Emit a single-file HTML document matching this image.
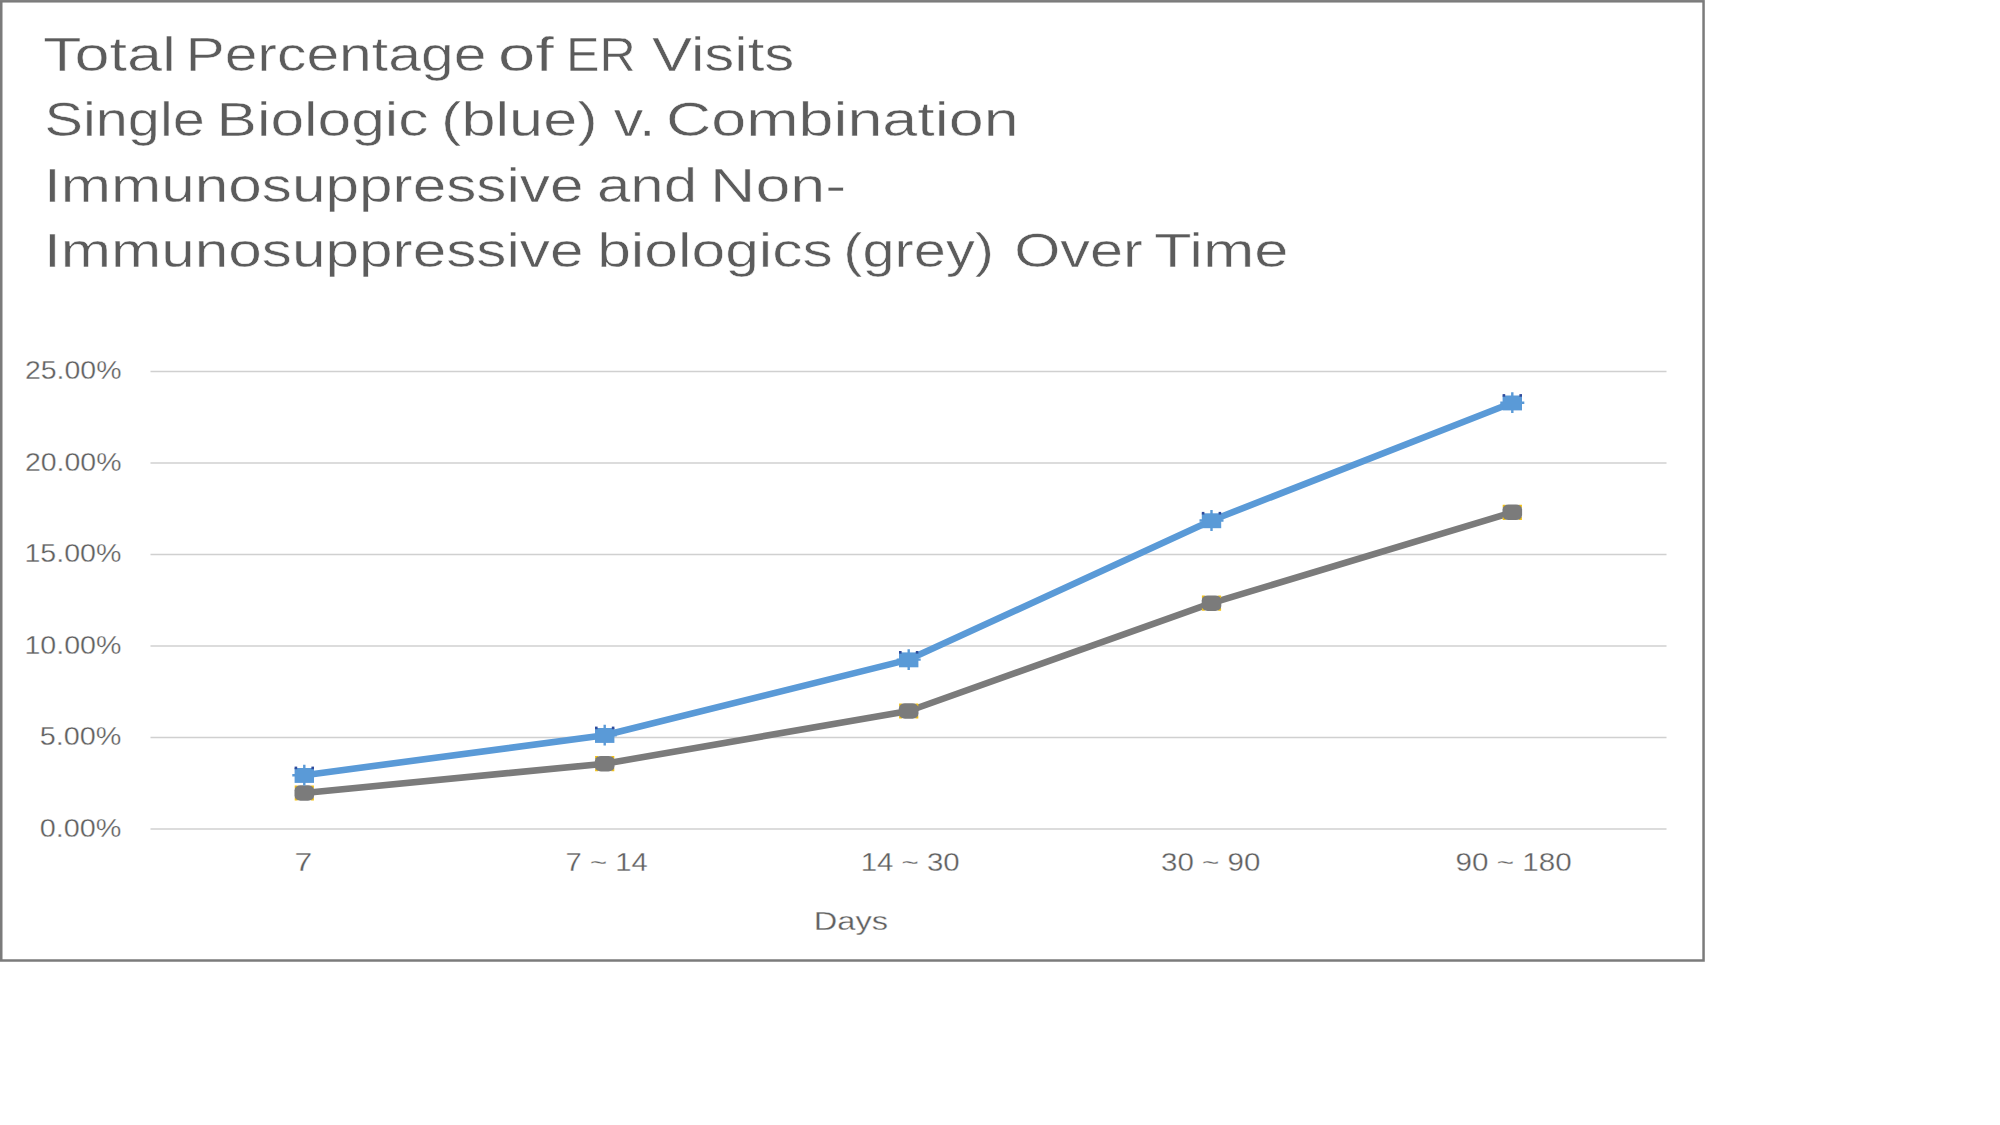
<!DOCTYPE html>
<html lang="en"><head><meta charset="utf-8"><title>Total Percentage of ER Visits</title>
<style>
html,body{margin:0;padding:0;background:#fff;}
body{width:2000px;height:1125px;overflow:hidden;position:relative;}
svg{position:absolute;left:0;top:0;display:block;}
text{font-family:"Liberation Sans",sans-serif;}
.t{font-size:48px;fill:#5c5c5c;stroke:#fff;stroke-width:0.5px;}
.a{font-size:25.1px;fill:#606060;stroke:#fff;stroke-width:0.3px;}
</style></head><body>
<svg width="2000" height="1125" viewBox="0 0 2000 1125">
<rect x="0" y="0" width="2000" height="1125" fill="#fff"/>
<rect x="1.25" y="1.3" width="1702.3" height="959.2" fill="#fff" stroke="#7b7b7b" stroke-width="2.5"/>
<g>
<line x1="150.5" y1="371.5" x2="1666.5" y2="371.5" stroke="#d0d0d0" stroke-width="1.5"/>
<line x1="150.5" y1="463.0" x2="1666.5" y2="463.0" stroke="#d0d0d0" stroke-width="1.5"/>
<line x1="150.5" y1="554.5" x2="1666.5" y2="554.5" stroke="#d0d0d0" stroke-width="1.5"/>
<line x1="150.5" y1="645.9" x2="1666.5" y2="645.9" stroke="#d0d0d0" stroke-width="1.5"/>
<line x1="150.5" y1="737.4" x2="1666.5" y2="737.4" stroke="#d0d0d0" stroke-width="1.5"/>
<line x1="150.5" y1="828.9" x2="1666.5" y2="828.9" stroke="#d0d0d0" stroke-width="1.5"/>
</g>
<text class="t" y="71"><tspan x="43.0" textLength="133.1" lengthAdjust="spacingAndGlyphs">Total</tspan> <tspan x="185.4" textLength="301.0" lengthAdjust="spacingAndGlyphs">Percentage</tspan> <tspan x="497.9" textLength="55.9" lengthAdjust="spacingAndGlyphs">of</tspan> <tspan x="566.1" textLength="69.7" lengthAdjust="spacingAndGlyphs">ER</tspan> <tspan x="652.0" textLength="142.4" lengthAdjust="spacingAndGlyphs">Visits</tspan></text>
<text class="t" y="136"><tspan x="44.5" textLength="160.3" lengthAdjust="spacingAndGlyphs">Single</tspan> <tspan x="216.6" textLength="211.9" lengthAdjust="spacingAndGlyphs">Biologic</tspan> <tspan x="441.1" textLength="156.5" lengthAdjust="spacingAndGlyphs">(blue)</tspan> <tspan x="613.8" textLength="41.5" lengthAdjust="spacingAndGlyphs">v.</tspan> <tspan x="665.9" textLength="352.7" lengthAdjust="spacingAndGlyphs">Combination</tspan></text>
<text class="t" y="201.5"><tspan x="44.1" textLength="539.4" lengthAdjust="spacingAndGlyphs">Immunosuppressive</tspan> <tspan x="596.9" textLength="100.3" lengthAdjust="spacingAndGlyphs">and</tspan> <tspan x="710.1" textLength="136.0" lengthAdjust="spacingAndGlyphs">Non-</tspan></text>
<text class="t" y="267"><tspan x="44.1" textLength="539.4" lengthAdjust="spacingAndGlyphs">Immunosuppressive</tspan> <tspan x="597.2" textLength="235.7" lengthAdjust="spacingAndGlyphs">biologics</tspan> <tspan x="843.3" textLength="150.7" lengthAdjust="spacingAndGlyphs">(grey)</tspan> <tspan x="1014.2" textLength="128.6" lengthAdjust="spacingAndGlyphs">Over</tspan> <tspan x="1154.0" textLength="134.5" lengthAdjust="spacingAndGlyphs">Time</tspan></text>
<text class="a" x="24.9" y="379.1" textLength="96.6" lengthAdjust="spacingAndGlyphs">25.00%</text>
<text class="a" x="24.9" y="470.6" textLength="96.6" lengthAdjust="spacingAndGlyphs">20.00%</text>
<text class="a" x="24.4" y="562.1" textLength="97.0" lengthAdjust="spacingAndGlyphs">15.00%</text>
<text class="a" x="24.4" y="653.5" textLength="97.0" lengthAdjust="spacingAndGlyphs">10.00%</text>
<text class="a" x="39.8" y="745.0" textLength="81.7" lengthAdjust="spacingAndGlyphs">5.00%</text>
<text class="a" x="39.8" y="836.5" textLength="81.7" lengthAdjust="spacingAndGlyphs">0.00%</text>
<text class="a" x="294.5" y="870.5" textLength="17.8" lengthAdjust="spacingAndGlyphs">7</text>
<text class="a" x="565.6" y="870.5" textLength="82.1" lengthAdjust="spacingAndGlyphs">7 ~ 14</text>
<text class="a" x="860.7" y="870.5" textLength="98.9" lengthAdjust="spacingAndGlyphs">14 ~ 30</text>
<text class="a" x="1161.1" y="870.5" textLength="99.2" lengthAdjust="spacingAndGlyphs">30 ~ 90</text>
<text class="a" x="1455.6" y="870.5" textLength="116.1" lengthAdjust="spacingAndGlyphs">90 ~ 180</text>
<text class="a" x="813.8" y="930.0" textLength="74.3" lengthAdjust="spacingAndGlyphs">Days</text>
<g>
<polyline points="304.3,793.0 604.7,763.7 908.7,711.0 1211.5,603.2 1512.3,512.3" fill="none" stroke="#7b7b7b" stroke-width="6.6" stroke-linejoin="round" stroke-linecap="round"/>
<path d="M294.7,785.4h3v3h-3zM310.9,785.4h3v3h-3zM294.7,797.6h3v3h-3zM310.9,797.6h3v3h-3z" fill="#f2c21a"/><rect x="294.5" y="785.2" width="19.6" height="15.6" rx="6" ry="5" fill="#7b7b7b"/>
<path d="M595.1,756.1h3v3h-3zM611.3,756.1h3v3h-3zM595.1,768.3h3v3h-3zM611.3,768.3h3v3h-3z" fill="#f2c21a"/><rect x="594.9" y="755.9" width="19.6" height="15.6" rx="6" ry="5" fill="#7b7b7b"/>
<path d="M899.1,703.4h3v3h-3zM915.3,703.4h3v3h-3zM899.1,715.6h3v3h-3zM915.3,715.6h3v3h-3z" fill="#f2c21a"/><rect x="898.9" y="703.2" width="19.6" height="15.6" rx="6" ry="5" fill="#7b7b7b"/>
<path d="M1201.9,595.6h3v3h-3zM1218.1,595.6h3v3h-3zM1201.9,607.8h3v3h-3zM1218.1,607.8h3v3h-3z" fill="#f2c21a"/><rect x="1201.7" y="595.4" width="19.6" height="15.6" rx="6" ry="5" fill="#7b7b7b"/>
<path d="M1502.7,504.7h3v3h-3zM1518.9,504.7h3v3h-3zM1502.7,516.9h3v3h-3zM1518.9,516.9h3v3h-3z" fill="#f2c21a"/><rect x="1502.5" y="504.5" width="19.6" height="15.6" rx="6" ry="5" fill="#7b7b7b"/>
</g>
<g>
<polyline points="304.3,775.2 604.7,735.2 908.7,659.6 1211.5,520.5 1512.3,402.7" fill="none" stroke="#5a9ad7" stroke-width="6.6" stroke-linejoin="round" stroke-linecap="round"/>
<path d="M304.3,764.8V785.6M292.3,775.2H316.3" stroke="#5a9ad7" stroke-width="2.4" fill="none"/><rect x="294.6" y="768.0" width="19.4" height="14.9" fill="#5a9ad7"/><rect x="294.6" y="766.6" width="2.6" height="2.6" fill="#2f4b9c"/><rect x="311.4" y="766.6" width="2.6" height="2.6" fill="#2f4b9c"/>
<path d="M604.7,724.8V745.6M592.7,735.2H616.7" stroke="#5a9ad7" stroke-width="2.4" fill="none"/><rect x="595.0" y="728.0" width="19.4" height="14.9" fill="#5a9ad7"/><rect x="595.0" y="726.6" width="2.6" height="2.6" fill="#2f4b9c"/><rect x="611.8" y="726.6" width="2.6" height="2.6" fill="#2f4b9c"/>
<path d="M908.7,649.2V670.0M896.7,659.6H920.7" stroke="#5a9ad7" stroke-width="2.4" fill="none"/><rect x="899.0" y="652.4" width="19.4" height="14.9" fill="#5a9ad7"/><rect x="899.0" y="651.0" width="2.6" height="2.6" fill="#2f4b9c"/><rect x="915.8" y="651.0" width="2.6" height="2.6" fill="#2f4b9c"/>
<path d="M1211.5,510.1V530.9M1199.5,520.5H1223.5" stroke="#5a9ad7" stroke-width="2.4" fill="none"/><rect x="1201.8" y="513.3" width="19.4" height="14.9" fill="#5a9ad7"/><rect x="1201.8" y="511.9" width="2.6" height="2.6" fill="#2f4b9c"/><rect x="1218.6" y="511.9" width="2.6" height="2.6" fill="#2f4b9c"/>
<path d="M1512.3,392.3V413.1M1500.3,402.7H1524.3" stroke="#5a9ad7" stroke-width="2.4" fill="none"/><rect x="1502.6" y="395.5" width="19.4" height="14.9" fill="#5a9ad7"/><rect x="1502.6" y="394.1" width="2.6" height="2.6" fill="#2f4b9c"/><rect x="1519.4" y="394.1" width="2.6" height="2.6" fill="#2f4b9c"/>
</g>
</svg>
</body></html>
